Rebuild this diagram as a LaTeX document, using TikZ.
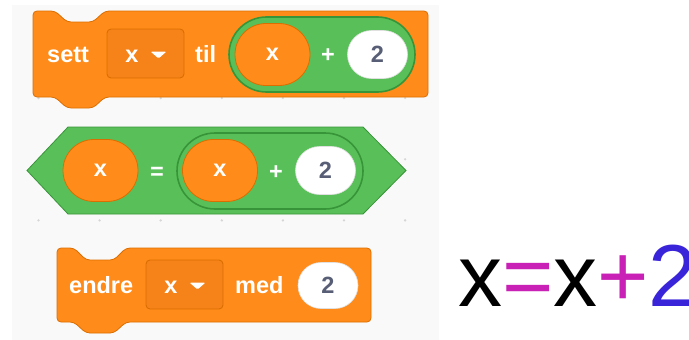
\documentclass[tikz,border=0pt]{standalone}
\usepackage{fontspec}
\usetikzlibrary{shapes.misc}
\newfontfamily\scratchfont{Liberation Sans}
\definecolor{varorange}{HTML}{FF8C1A}
\definecolor{varedge}{HTML}{DB6E00}
\definecolor{ddorange}{HTML}{F5831A}
\definecolor{opgreen}{HTML}{59C059}
\definecolor{opedge}{HTML}{389438}
\definecolor{slottext}{HTML}{575E75}
\definecolor{panelgray}{HTML}{F9F9F9}
\definecolor{dotgray}{HTML}{D6D6D6}
\definecolor{eqpink}{HTML}{C920B6}
\definecolor{eqblue}{HTML}{3A24DA}
\tikzset
{
    stackblock/.style = {fill=varorange, draw=varedge, line width=0.8pt, rounded corners=4pt},
    boolblock/.style  = {fill=opgreen, draw=opedge, line width=0.8pt},
    blocktext/.style  = {text=white, font=\scratchfont\bfseries\fontsize{23.5}{28}\selectfont, inner sep=0pt},
    reporter/.style   = {rounded rectangle, fill=varorange, draw=varedge, line width=0.8pt, minimum width=75pt, minimum height=62pt, blocktext},
    oppill/.style     = {rounded rectangle, fill=opgreen, draw=opedge, line width=1.6pt, minimum width=186pt, minimum height=75pt, inner sep=0pt},
    numslot/.style    = {rounded rectangle, fill=white, draw=black!12, line width=0.6pt, minimum width=60pt, minimum height=48pt, blocktext, text=slottext},
    dropdown/.style   = {rectangle, rounded corners=4pt, fill=ddorange, draw=varedge, line width=0.9pt, minimum width=77pt, minimum height=49pt, inner sep=0pt},
    ddarrow/.style    = {fill=white, rounded corners=1.2pt},
    griddot/.style    = {fill=dotgray}
}

\begin{document}
\begin{tikzpicture}[x=1pt, y=-1pt]
   \newcommand\ROWONE{54.5}
   \newcommand\ROWTWO{170.5}
   \newcommand\ROWTHREE{285}
   \newcommand\BASEUP{8.5}

   \clip (0,0) rectangle (689,340);
   \fill[white] (0,0) rectangle (689,340);
   \fill[panelgray] (12,5) rectangle (439,340);
   \foreach \i in {0,...,6}
     \foreach \j in {0,...,3}
       \fill[griddot] (38.5+61.1*\i, 36.8+61.2*\j) circle (1.3pt);

   % sett x til (x + 2)
   \draw[stackblock] (33,11) -- (55,11) -- (67,22) -- (93,22) -- (105,11) -- (428,11)
      -- (428,97) -- (105,97) -- (93,108) -- (67,108) -- (55,97) -- (33,97) -- cycle;
   \node (sett)  [blocktext, anchor=base west]  at (47, \ROWONE+\BASEUP)   {sett};
   \node (dd1)   [dropdown]                     at (145.5, \ROWONE-1)      {};
   \node (ddx1)  [blocktext, anchor=base]       at ([shift={(-13.5, 0)}]dd1.center |- sett.base) {x};
   \fill[ddarrow] ([shift={(5,-2)}]dd1.center) -- ([shift={(21,-2)}]dd1.center) -- ([shift={(13,5)}]dd1.center) -- cycle;
   \node (til)   [blocktext, anchor=base west]  at (195, \ROWONE+\BASEUP)  {til};
   \node (sum1)  [oppill]                       at (322, \ROWONE)          {};
   \node (var1)  [reporter]                     at (272.5, \ROWONE)        {x};
   \node (plus1) [blocktext, anchor=base]       at (328, \ROWONE+\BASEUP)  {+};
   \node (num1)  [numslot]                      at (377.5, \ROWONE)        {2};

   % x = (x + 2)
   \draw[boolblock] (27,\ROWTWO) -- (68,127) -- (363,127) -- (406,\ROWTWO) -- (363,214) -- (68,214) -- cycle;
   \node (var2)  [reporter]                     at (100.5, \ROWTWO)        {x};
   \node (eq2)   [blocktext, anchor=base]       at (157, \ROWTWO+\BASEUP)  {=};
   \node (sum2)  [oppill, minimum height=76pt]  at (270, \ROWTWO+0.5)      {};
   \node (var3)  [reporter]                     at (220, \ROWTWO)          {x};
   \node (plus2) [blocktext, anchor=base]       at (276, \ROWTWO+\BASEUP)  {+};
   \node (num2)  [numslot]                      at (325.5, \ROWTWO)        {2};

   % endre x med 2
   \draw[stackblock] (57,248) -- (74,248) -- (86,260) -- (114,260) -- (126,248) -- (371,248)
      -- (371,322) -- (126,322) -- (114,333) -- (86,333) -- (74,322) -- (57,322) -- cycle;
   \node (endre) [blocktext, anchor=base west]  at (69, \ROWTHREE+\BASEUP)   {endre};
   \node (dd2)   [dropdown]                     at (184.5, \ROWTHREE-0.5)    {};
   \node (ddx2)  [blocktext, anchor=base]       at ([shift={(-13.5, 0)}]dd2.center |- endre.base) {x};
   \fill[ddarrow] ([shift={(5,-2)}]dd2.center) -- ([shift={(21,-2)}]dd2.center) -- ([shift={(13,5)}]dd2.center) -- cycle;
   \node (med)   [blocktext, anchor=base west]  at (235, \ROWTHREE+\BASEUP)  {med};
   \node (num3)  [numslot, minimum height=46pt] at (328, \ROWTHREE+0.5)     {2};

   % x=x+2
   \node (eqn)   [inner sep=0pt, anchor=base west, font=\scratchfont\fontsize{88}{100}\selectfont]
                 at (458, 306) {x\textcolor{eqpink}{=}x\textcolor{eqpink}{+}\textcolor{eqblue}{2}};
\end{tikzpicture}
\end{document}
